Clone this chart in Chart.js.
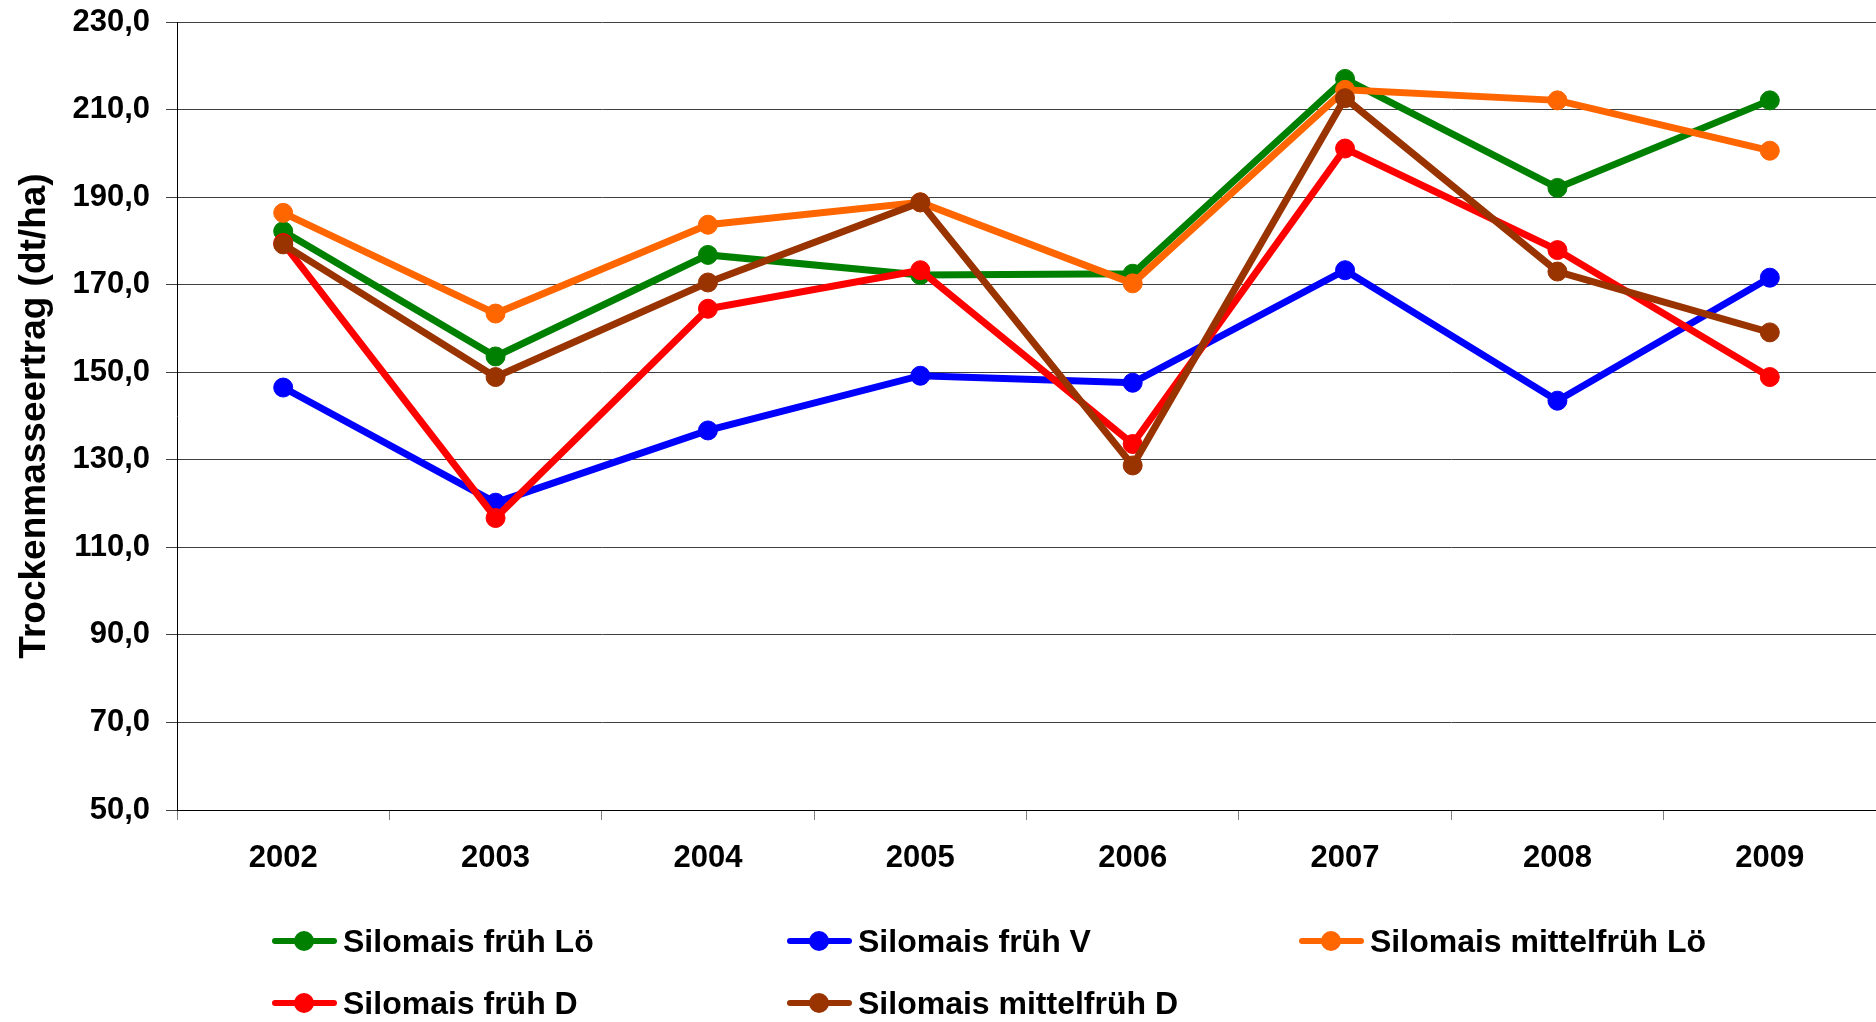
<!DOCTYPE html>
<html>
<head>
<meta charset="utf-8">
<script src="https://cdn.jsdelivr.net/npm/chart.js@4"></script>
<style>
  body { margin: 0; background: #fff; overflow: hidden; }
  #wrap { position: relative; width: 1876px; height: 1022px; }
  #legend { position: absolute; left: 0; top: 0; width: 1876px; height: 1022px; pointer-events: none; }
  .item { position: absolute; display: flex; align-items: center; font: bold 32px "Liberation Sans", Arial, sans-serif; color: #000; white-space: nowrap; }
  .mark { position: relative; width: 65px; height: 20px; margin-right: 6px; }
  .mark .ln { position: absolute; left: 0; top: 7px; width: 65px; height: 6px; border-radius: 3px; }
  .mark .dot { position: absolute; left: 22px; top: 0; width: 20px; height: 20px; border-radius: 50%; }
</style>
</head>
<body>
<div id="wrap">
  <canvas id="chart"></canvas>
  <div id="legend"></div>
</div>
<script>
const years = ["2002", "2003", "2004", "2005", "2006", "2007", "2008", "2009"];

const seriesNames = ["Silomais früh Lö", "Silomais früh V", "Silomais mittelfrüh Lö", "Silomais früh D", "Silomais mittelfrüh D"];
const seriesColors = ["#008000", "#0000ff", "#ff6600", "#ff0000", "#993300"];

const fruehLoe = [182.2, 153.6, 176.8, 172.2, 172.5, 217.0, 192.1, 212.1];
const fruehV = [146.5, 120.2, 136.7, 149.2, 147.6, 173.3, 143.5, 171.6];
const mittelfruehLoe = [186.4, 163.4, 183.7, 188.8, 170.3, 214.5, 212.1, 200.6];
const fruehD = [179.5, 116.7, 164.5, 173.3, 133.6, 201.1, 177.9, 148.9];
const mittelfruehD = [179.2, 148.9, 170.5, 188.8, 128.7, 212.6, 173.0, 159.1];

const yMin = 50;
const yMax = 230;
const yStep = 20;

const allSeries = [fruehLoe, fruehV, mittelfruehLoe, fruehD, mittelfruehD];

const tickFont = { family: "'Liberation Sans', Arial, sans-serif", size: 31, weight: "bold" };

// later series sit on top, like in the original
const datasets = allSeries.map((values, i) => ({
  label: seriesNames[i],
  data: values,
  borderColor: seriesColors[i],
  backgroundColor: seriesColors[i],
  pointBackgroundColor: seriesColors[i],
  pointBorderColor: seriesColors[i],
  borderWidth: 7,
  pointRadius: 9.5,
  pointBorderWidth: 1,
  tension: 0,
  order: allSeries.length - i
}));

const ctx = document.getElementById("chart").getContext("2d");

const chart = new Chart(ctx, {
  type: "line",
  data: { labels: years, datasets: datasets },
  options: {
    responsive: true,
    maintainAspectRatio: false,
    animation: false,
    layout: { autoPadding: false, padding: { top: 22, left: 0, right: 0, bottom: 0 } },
    plugins: {
      legend: { display: false },
      tooltip: { enabled: false }
    },
    scales: {
      x: {
        offset: true,
        grid: {
          offset: true,
          drawOnChartArea: false,
          drawTicks: true,
          tickLength: 10,
          color: "#808080"
        },
        border: { color: "#000", width: 1 },
        ticks: { color: "#000", font: tickFont, padding: 20, maxRotation: 0 },
        afterFit: scale => {
          scale.height = 212;
          scale.paddingLeft = 0;
          scale.paddingRight = 0;
        }
      },
      y: {
        min: yMin,
        max: yMax,
        grid: { color: "#404040", lineWidth: 1, tickLength: 11 },
        border: { color: "#000", width: 1 },
        ticks: {
          stepSize: yStep,
          color: "#000",
          font: tickFont,
          padding: 16,
          callback: v => v.toFixed(1).replace(".", ",")
        },
        title: {
          display: true,
          text: "Trockenmasseertrag (dt/ha)",
          color: "#000",
          font: { family: "'Liberation Sans', Arial, sans-serif", size: 37, weight: "bold" },
          padding: { top: 13, bottom: 0 }
        },
        afterFit: scale => {
          scale.width = 177;
          scale.paddingTop = 0;
          scale.paddingBottom = 0;
        }
      }
    }
  }
});

// legend in three columns, two rows
const legendEl = document.getElementById("legend");
const colX = [272, 787, 1299];
const rowY = [941, 1003];

chart.data.datasets.forEach((ds, i) => {
  const item = document.createElement("div");
  item.className = "item";
  item.style.left = colX[i % 3] + "px";
  item.style.top = (rowY[Math.floor(i / 3)] - 20) + "px";
  item.style.height = "40px";

  const mark = document.createElement("span");
  mark.className = "mark";
  const ln = document.createElement("span");
  ln.className = "ln";
  ln.style.background = ds.borderColor;
  const dot = document.createElement("span");
  dot.className = "dot";
  dot.style.background = ds.borderColor;
  mark.appendChild(ln);
  mark.appendChild(dot);

  const txt = document.createElement("span");
  txt.innerText = ds.label;

  item.appendChild(mark);
  item.appendChild(txt);
  legendEl.appendChild(item);
});
</script>
</body>
</html>
